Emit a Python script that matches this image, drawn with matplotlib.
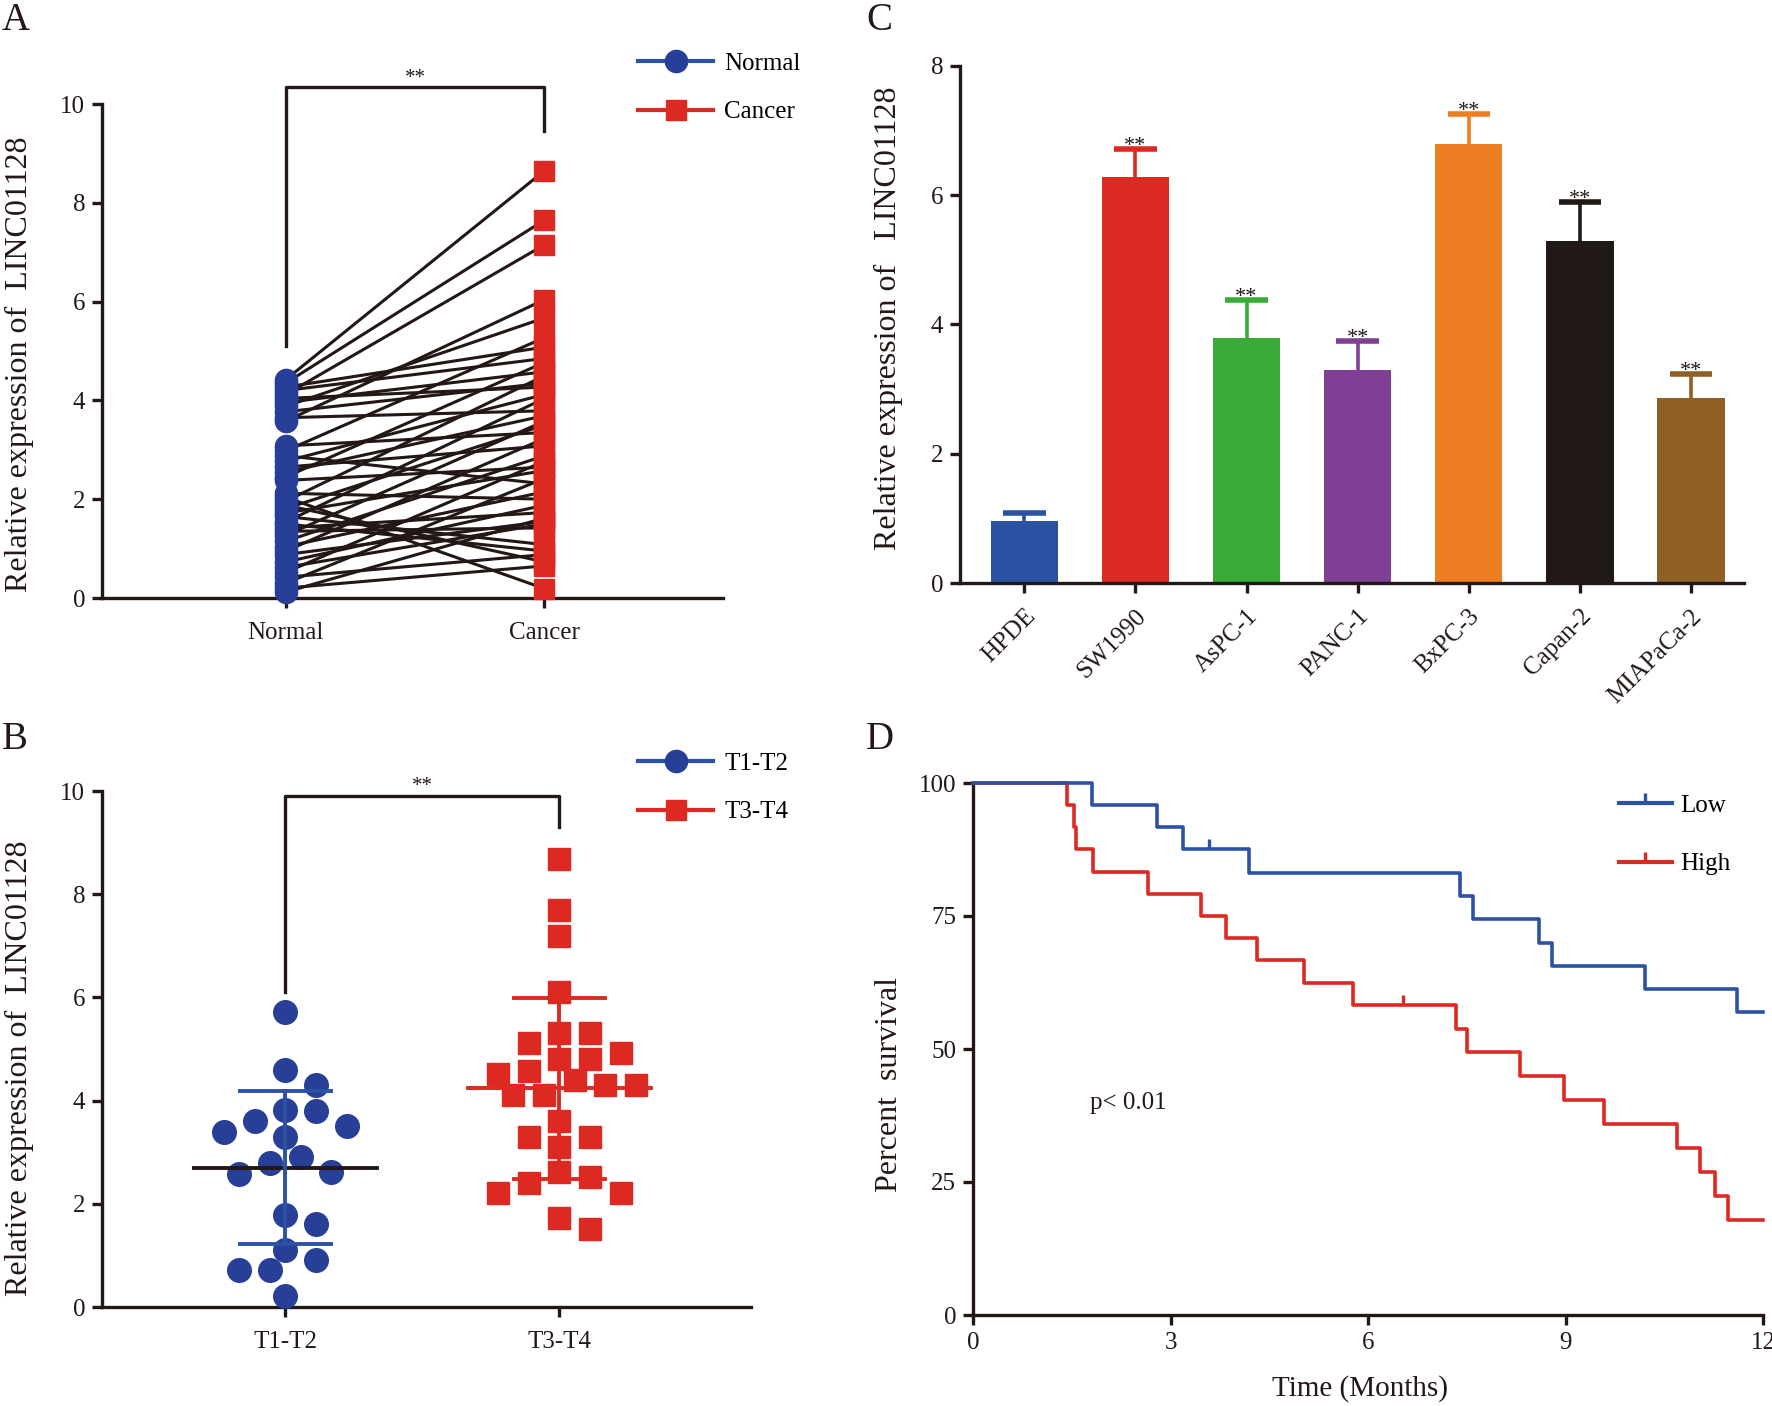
import numpy as np
import matplotlib.pyplot as plt
from matplotlib.lines import Line2D
from matplotlib.path import Path

plt.rcParams['font.family'] = ['Liberation Serif', 'DejaVu Serif']
plt.rcParams['font.size'] = 18

# ---------------- data ----------------
groups_a = ["Normal", "Cancer"]
normal_a = [4.42, 4.35, 4.12, 3.58, 3.88, 2.98, 4.27, 4.20, 2.45, 3.96, 1.96, 3.77,
            4.04, 2.77, 1.54, 3.65, 2.55, 1.27, 1.81, 3.08, 0.95, 2.65, 1.15, 0.52,
            2.38, 1.72, 0.30, 2.88, 1.04, 0.73, 1.42, 0.12, 0.62, 1.35, 1.65, 0.42,
            1.88, 0.20, 2.04, 0.88, 1.50, 2.12]
cancer_a = [8.65, 7.65, 7.15, 6.04, 5.67, 5.27, 5.08, 4.85, 4.77, 4.58, 4.50, 4.35,
            4.27, 4.12, 4.04, 3.79, 3.69, 3.58, 3.50, 3.35, 3.23, 3.08, 2.88, 2.77,
            2.65, 2.58, 2.42, 2.31, 2.15, 1.88, 1.73, 1.62, 1.50, 1.42, 1.08, 0.88,
            0.73, 0.65, 0.19, 1.55, 0.95, 2.00]

groups_b = ["T1-T2", "T3-T4"]
t12 = [5.71, 4.60, 4.30, 3.79, 3.81, 3.51, 3.61, 3.40, 3.30, 2.80, 2.90, 2.58,
       2.61, 1.79, 1.60, 1.11, 0.91, 0.71, 0.71, 0.21]
t34 = [8.69, 7.70, 7.19, 6.10, 5.31, 5.31, 5.11, 4.92, 4.81, 4.81, 4.58, 4.52,
       4.40, 4.30, 4.30, 4.10, 4.10, 3.61, 3.30, 3.30, 3.10, 2.62, 2.51, 2.40,
       2.21, 2.21, 1.72, 1.52]

cells = ["HPDE", "SW1990", "AsPC-1", "PANC-1", "BxPC-3", "Capan-2", "MIAPaCa-2"]
cell_mean = [0.96, 6.29, 3.79, 3.30, 6.79, 5.29, 2.86]
cell_err = [0.12, 0.43, 0.59, 0.44, 0.46, 0.60, 0.37]
cell_colors = ["#2A52A3", "#DC2A22", "#38AC37", "#7E3F95", "#EE7E22", "#211915", "#8E6026"]

low_events = [1.80, 2.79, 3.19, 4.19, 7.40, 7.60, 8.60, 8.80, 10.21, 11.60]
low_censored = [3.59] + [12.0] * 13
high_events = [1.43, 1.53, 1.57, 1.82, 2.66, 3.47, 3.84, 4.32, 5.03, 5.77,
               7.33, 7.51, 8.31, 8.97, 9.59, 10.70, 11.04, 11.27, 11.47]
high_censored = [6.53] + [12.0] * 4

# ---------------- helpers ----------------
W, H = 1772, 1406
ink = '#231815'
blue = '#283F98'
blue_l = '#2B52A5'
red = '#DC2A23'


def box(l, r, b, t):
    return [l / W, 1 - b / H, (r - l) / W, (b - t) / H]


def style(ax):
    for s in ['top', 'right']:
        ax.spines[s].set_visible(False)
    for s in ['left', 'bottom']:
        ax.spines[s].set_linewidth(2.4)
        ax.spines[s].set_color(ink)
    ax.tick_params(width=2.4, length=7, color=ink, labelsize=18, pad=5, labelcolor=ink)


def swarm(vals, step, w, h):
    vals = np.asarray(vals)
    offs = np.zeros(len(vals))
    placed = []
    cands = [0]
    for j in range(1, 40):
        cands += [j, -j]
    for i in np.argsort(-vals, kind='stable'):
        for c in cands:
            x = c * step
            if all(((x - px) / w) ** 2 + ((vals[i] - py) / h) ** 2 >= 0.98 for px, py in placed):
                break
        offs[i] = x
        placed.append((x, vals[i]))
    return offs


def km(events, censored, t_end):
    ev = np.asarray(events)
    ce = np.asarray(censored)
    xs, ys, s = [0.0], [100.0], 100.0
    for t in np.unique(ev):
        at_risk = np.sum(ev >= t) + np.sum(ce >= t)
        s *= 1 - np.sum(ev == t) / at_risk
        xs.append(t)
        ys.append(s)
    xs.append(t_end)
    ys.append(s)
    return np.array(xs), np.array(ys)


def surv_at(xs, ys, t):
    return ys[np.searchsorted(xs, t, side='right') - 1]


tick_mark = Path([(0, 0), (0, 1)])

fig = plt.figure(figsize=(17.72, 14.06), dpi=100)

# ---------------- A ----------------
axA = fig.add_axes(box(102, 723, 598, 104))
style(axA)
for n, c in zip(normal_a, cancer_a):
    axA.plot([0, 1], [n, c], color=ink, lw=2.2, zorder=2)
axA.plot(np.zeros(len(normal_a)), normal_a, 'o', ms=16, color=blue, mec=blue, clip_on=False, zorder=3)
axA.plot(np.ones(len(cancer_a)), cancer_a, 's', ms=15, color=red, mec=red, clip_on=False, zorder=3)
axA.set_xlim(-0.71, 1.69)
axA.set_ylim(0, 10)
axA.set_xticks([0, 1])
axA.set_xticklabels(groups_a)
axA.set_yticks(range(0, 11, 2))
axA.tick_params(axis='x', pad=10)
axA.plot([0, 0, 1, 1], [5.1, 10.35, 10.35, 9.45], color=ink, lw=2.4, clip_on=False)
axA.text(0.5, 10.42, '**', ha='center', va='baseline', fontsize=15, color=ink)
hA = [Line2D([], [], color=blue_l, lw=3, marker='o', ms=16, mfc=blue, mec=blue),
      Line2D([], [], color=red, lw=3, marker='s', ms=14, mfc=red, mec=red)]
fig.legend(hA, groups_a, loc='upper left', bbox_to_anchor=(638 / W, 1 - 52 / H), frameon=False,
           handlelength=3.0, handletextpad=0.45, labelspacing=1.05, borderpad=0, borderaxespad=0,
           fontsize=18)

# ---------------- B ----------------
axB = fig.add_axes(box(102, 751, 1307, 791))
style(axB)
for k, (vals, mk, col, mcol) in enumerate([(t12, 'o', blue_l, ink), (t34, 's', red, red)]):
    offs = swarm(vals, 0.056, 0.11, 0.46)
    mfc = blue if mk == 'o' else red
    axB.plot(k + offs, vals, mk, ms=17 if mk == 'o' else 16, color=mfc, mec=mfc, clip_on=False, zorder=3)
    m = np.mean(vals)
    sd = np.std(vals, ddof=1)
    axB.plot([k - 0.333, k + 0.333], [m, m], color=mcol, lw=2.8, zorder=4)
    axB.plot([k, k], [m - sd, m + sd], color=col, lw=2.8, zorder=4)
    for yv in (m - sd, m + sd):
        axB.plot([k - 0.167, k + 0.167], [yv, yv], color=col, lw=2.8, zorder=4)
axB.set_xlim(-0.67, 1.70)
axB.set_ylim(0, 10)
axB.set_xticks([0, 1])
axB.set_xticklabels(groups_b)
axB.set_yticks(range(0, 11, 2))
axB.tick_params(axis='x', pad=10)
axB.plot([0, 0, 1, 1], [6.1, 9.9, 9.9, 9.3], color=ink, lw=2.4, clip_on=False)
axB.text(0.5, 10.0, '**', ha='center', va='baseline', fontsize=15, color=ink)
hB = [Line2D([], [], color=blue_l, lw=3, marker='o', ms=16, mfc=blue, mec=blue),
      Line2D([], [], color=red, lw=3, marker='s', ms=14, mfc=red, mec=red)]
fig.legend(hB, groups_b, loc='upper left', bbox_to_anchor=(638 / W, 1 - 752 / H), frameon=False,
           handlelength=3.0, handletextpad=0.45, labelspacing=1.05, borderpad=0, borderaxespad=0,
           fontsize=18)

# ---------------- C ----------------
axC = fig.add_axes(box(960, 1744, 583, 66))
style(axC)
xc = np.arange(len(cells))
for i in range(len(cells)):
    top = cell_mean[i] + cell_err[i]
    axC.bar(xc[i], cell_mean[i], width=0.61, color=cell_colors[i], zorder=2)
    axC.plot([xc[i], xc[i]], [cell_mean[i], top], color=cell_colors[i], lw=2.6, zorder=2)
    axC.plot([xc[i] - 0.19, xc[i] + 0.19], [top, top], color=cell_colors[i], lw=4, zorder=2,
             solid_capstyle='butt')
    if i > 0:
        axC.text(xc[i], top - 0.03, '**', ha='center', va='baseline', fontsize=16, color=ink)
axC.set_xlim(-0.58, 6.48)
axC.set_ylim(0, 8)
axC.set_yticks(range(0, 9, 2))
axC.set_xticks(xc)
axC.set_xticklabels(cells, rotation=45, ha='right', va='top', rotation_mode='anchor')
axC.tick_params(axis='x', pad=9)

# ---------------- D ----------------
axD = fig.add_axes(box(973, 1763, 1315, 783))
style(axD)
for ev, ce, col, lab, z in [(high_events, high_censored, red, 'High', 3),
                            (low_events, low_censored, blue_l, 'Low', 4)]:
    xs, ys = km(ev, ce, 12.0)
    axD.step(xs, ys, where='post', color=col, lw=2.6, zorder=z, clip_on=False)
    for t in ce:
        if t < 12.0:
            axD.plot([t], [surv_at(xs, ys, t)], marker=tick_mark, ms=15, mew=2.4, color=col, zorder=z)
axD.set_xlim(0, 12)
axD.set_ylim(0, 100)
axD.set_xticks([0, 3, 6, 9, 12])
axD.set_yticks([0, 25, 50, 75, 100])
axD.text(1.78, 39.8, 'p< 0.01', ha='left', va='center', fontsize=18, color=ink)
hD = [Line2D([], [], color=blue_l, lw=3, marker=tick_mark, ms=15, mew=2.4),
      Line2D([], [], color=red, lw=3, marker=tick_mark, ms=15, mew=2.4)]
fig.legend(hD, ['Low', 'High'], loc='upper left', bbox_to_anchor=(1619 / W, 1 - 794 / H), frameon=False,
           handlelength=2.1, handletextpad=0.35, labelspacing=1.45, borderpad=0, borderaxespad=0,
           fontsize=18)

# ---------------- labels ----------------
ylab = 'Relative expression of  LINC01128'
fig.text(19 / W, 1 - 364 / H, ylab, rotation=90, ha='center', va='center', fontsize=23, color=ink)
fig.text(19 / W, 1 - 1068 / H, ylab, rotation=90, ha='center', va='center', fontsize=23, color=ink)
fig.text(888 / W, 1 - 318 / H, 'Relative expression of   LINC01128', rotation=90, ha='center',
         va='center', fontsize=23, color=ink)
fig.text(890 / W, 1 - 1085 / H, 'Percent  survival', rotation=90, ha='center', va='center',
         fontsize=23, color=ink)
fig.text(1360 / W, 1 - 1389 / H, 'Time (Months)', ha='center', va='center', fontsize=21, color=ink)

for letter, px, py in [('A', 2, 2), ('B', 2, 721), ('C', 866, 2), ('D', 866, 721)]:
    fig.text(px / W, 1 - py / H, letter, ha='left', va='top', fontsize=28, color=ink)

fig.savefig('out.png', dpi=100, facecolor='white')
